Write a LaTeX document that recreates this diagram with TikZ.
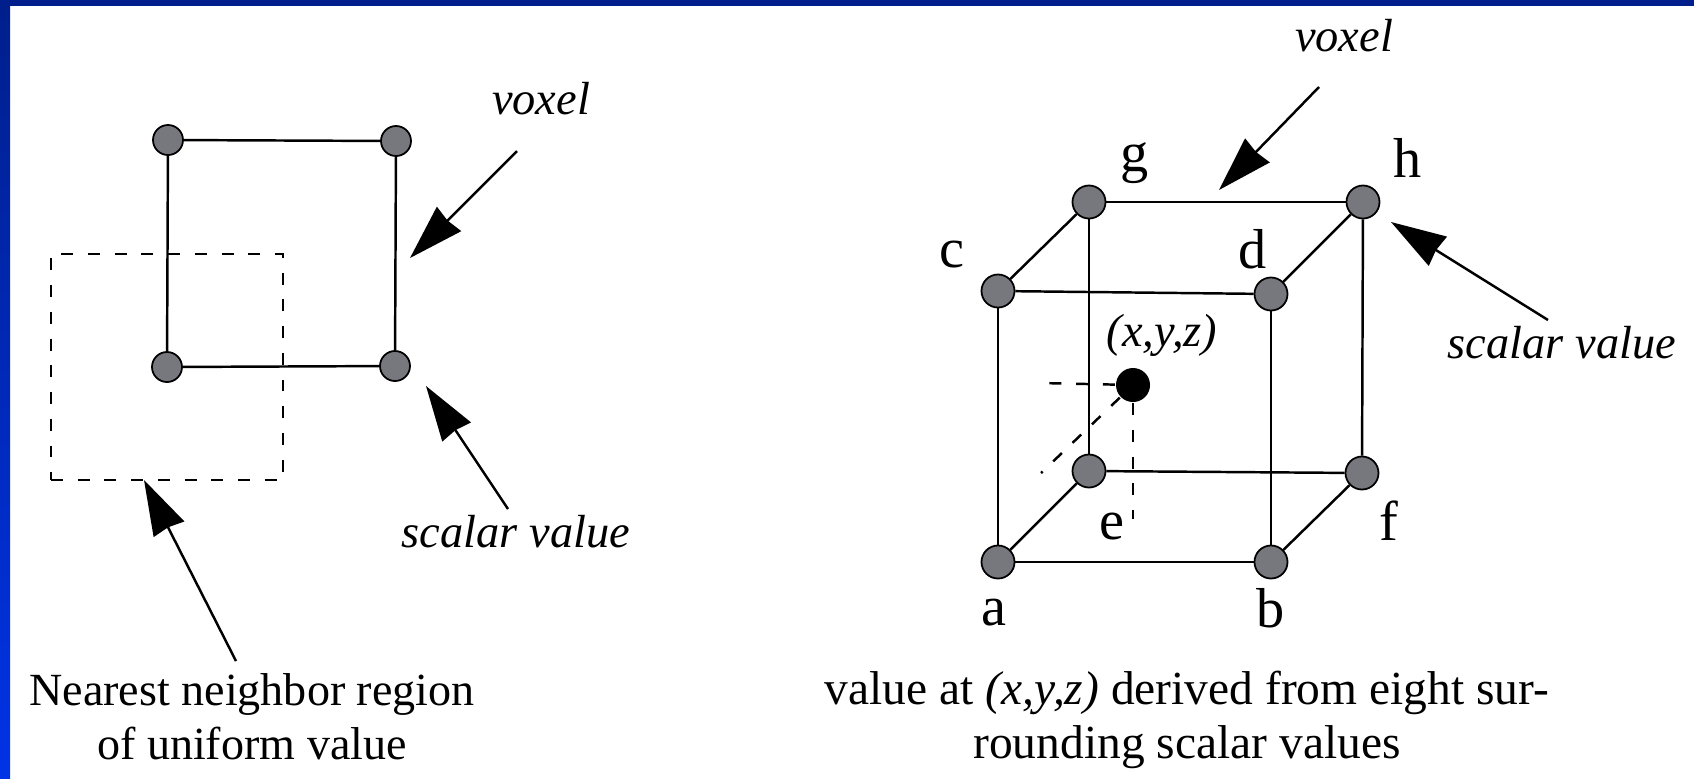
\documentclass[tikz,border=0pt]{standalone}
\usepackage{fontspec}
\setmainfont{Liberation Serif}
\usepackage{tikz}
\usetikzlibrary{arrows.meta}
\definecolor{bartop}{HTML}{001F8C}
\definecolor{barbot}{HTML}{0033E6}
\definecolor{ptgray}{HTML}{77777E}

\begin{document}
\begin{tikzpicture}[x=0.01cm, y=-0.01cm, line width=0.7pt,
    bigarrow/.style={-{Stealth[length=0.55cm, width=0.34cm, inset=0.02cm]}},
    voxpt/.style={circle, draw, fill=ptgray, line width=0.5pt, inner sep=0pt, minimum size=0.3cm},
    cubept/.style={voxpt, minimum size=0.33cm},
    probe/.style={circle, fill=black, inner sep=0pt, minimum size=0.34cm},
    dashline/.style={dash pattern=on 3.4pt off 4.2pt},
    txt/.style={font=\fontsize{13.5}{15.4}\selectfont, inner sep=0pt},
    lbl/.style={font=\fontsize{16}{18}\selectfont, inner sep=0pt},
    slant/.style={inner sep=0pt, font=\fontsize{13.2}{15.4}\selectfont\itshape}]

    \useasboundingbox (0, 0) rectangle (1694, 778);
    \fill[white] (0, 0) rectangle (1694, 778);
    \shade[top color=bartop, bottom color=barbot] (0, 0) rectangle (10, 778);
    \fill[bartop] (0, 0) rectangle (1694, 6);

    \node[voxpt] (tl) at (168, 140) {};
    \node[voxpt] (tr) at (396, 141) {};
    \node[voxpt] (bl) at (167, 367) {};
    \node[voxpt] (br) at (395, 366) {};
    \node[draw, dashline, inner sep=0pt, minimum width=2.32cm, minimum height=2.26cm] (region) at (167, 367) {};

    \draw (tl) -- (tr);
    \draw (tr) -- (br);
    \draw (br) -- (bl);
    \draw (bl) -- (tl);

    \node[slant] (voxA) at (541, 99) {voxel};
    \node[slant] (scalA) at (516, 532) {scalar value};
    \node[txt, font=\fontsize{13.1}{15.4}\selectfont, align=center] (capA) at (252, 717) {Nearest neighbor region\\of uniform value};

    \coordinate (voxAtail) at (517, 151);
    \coordinate (voxAtip) at (410, 258);
    \coordinate (scalAtail) at (508, 509);
    \coordinate (scalAtip) at (426, 386);
    \coordinate (capAtail) at (236, 661);
    \coordinate (capAtip) at (144, 480);
    \draw[bigarrow] (voxAtail) -- (voxAtip);
    \draw[bigarrow] (scalAtail) -- (scalAtip);
    \draw[bigarrow] (capAtail) -- (capAtip);

    \node[cubept] (a) at (998, 562) {};
    \node[cubept] (b) at (1271, 562) {};
    \node[cubept] (c) at (998, 291) {};
    \node[cubept] (d) at (1271, 294) {};
    \node[cubept] (e) at (1089, 471) {};
    \node[cubept] (f) at (1362, 473) {};
    \node[cubept] (g) at (1089, 202) {};
    \node[cubept] (h) at (1363, 202) {};
    \node[probe] (xyz) at (1133, 385) {};

    \draw (a) -- (b);
    \draw (c) -- (d);
    \draw (e) -- (f);
    \draw (g) -- (h);
    \draw (a) -- (c);
    \draw (b) -- (d);
    \draw (e) -- (g);
    \draw (f) -- (h);
    \draw (a) -- (e);
    \draw (b) -- (f);
    \draw (c) -- (g);
    \draw (d) -- (h);

    \coordinate (xyzleft) at (1040, 383);
    \coordinate (xyzback) at (1041, 473);
    \coordinate (xyzdown) at (1133, 519);
    \draw[dashline] (xyz) -- (xyzleft);
    \draw[dashline] (xyz) -- (xyzback);
    \draw[dashline] (xyz) -- (xyzdown);

    \node[lbl] (la) at (994, 613) {a};
    \node[lbl] (lb) at (1271, 608) {b};
    \node[lbl] (lc) at (952, 255) {c};
    \node[lbl] (ld) at (1253, 249) {d};
    \node[lbl] (le) at (1112, 527) {e};
    \node[lbl] (lf) at (1389, 521) {f};
    \node[lbl] (lg) at (1135, 163) {g};
    \node[lbl] (lh) at (1408, 158) {h};

    \node[slant] (lxyz) at (1162, 335) {(x,y,z)};
    \node[slant] (voxB) at (1344, 36) {voxel};
    \node[slant] (scalB) at (1562, 343) {scalar value};
    \node[txt, align=center] (capB) at (1187, 720) {value at \textit{(x,y,z)} derived from eight sur-\\rounding scalar values};

    \coordinate (voxBtail) at (1319, 87);
    \coordinate (voxBtip) at (1219, 190);
    \coordinate (scalBtail) at (1548, 320);
    \coordinate (scalBtip) at (1391, 222);
    \draw[bigarrow] (voxBtail) -- (voxBtip);
    \draw[bigarrow] (scalBtail) -- (scalBtip);
\end{tikzpicture}
\end{document}
